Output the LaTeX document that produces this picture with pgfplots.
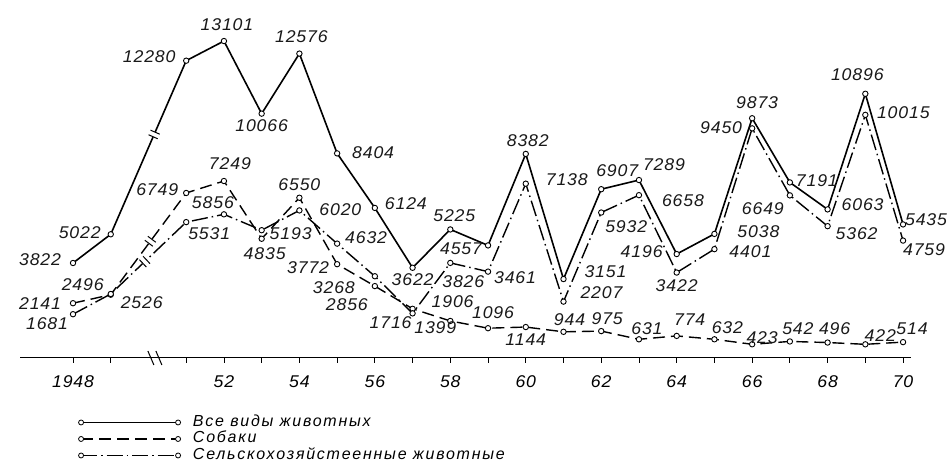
\documentclass[border=0pt]{standalone}
\usepackage{fontspec}
\setmainfont{Liberation Sans}
\newfontfamily\labfont{Liberation Sans}[LetterSpace=5, FakeStretch=1.04]
\newfontfamily\legfont{Liberation Sans}[LetterSpace=11]
\usepackage{pgfplots}
\pgfplotsset{compat=1.18}
\usepackage{pgfplotstable}

\pgfplotstableread{
x y dx dy
1948 3822 -33 3
1949 5022 -31 2
1951 12280 -37 4
1952 13101 3 16
1953 10066 0 -12
1954 12576 2 17
1955 8404 36 1
1956 6124 31 4
1957 3622 0 -12
1958 5225 4 14
1959 4557 -27 -3
1960 8382 2 13
1961 3151 42 7
1962 6907 16 19
1963 7289 25 15
1964 4196 -35 2
1965 5038 44 2
1966 9873 5 16
1967 7191 27 2
1968 6063 35 5
1969 10896 -8 19
1970 5435 23 5
}\allt

\pgfplotstableread{
x y dx dy
1948 2141 -33 0
1949 2496 -28 10
1951 6749 -29 3
1952 7249 6 17
1953 4835 3 -15
1954 6550 0 13
1955 3772 -29 -3
1956 2856 -28 -19
1957 1906 40 7
1958 1399 -15 -7
1959 1096 5 16
1960 1144 0 -13
1961 944 6 12
1962 975 6 12
1963 631 8 11
1964 774 13 16
1965 632 13 12
1966 423 10 7
1967 542 8 13
1968 496 7 14
1969 422 15 9
1970 514 9 13
}\dogs

\pgfplotstableread{
x y dx dy
1948 1681 -26 -9
1949 2526 31 -9
1951 5531 23 -12
1952 5856 -11 12
1953 5193 29 -3
1954 6020 41 1
1955 4632 29 6
1956 3268 -41 -11
1957 1716 -22 -9
1958 3826 13 -19
1959 3461 27 -6
1960 7138 41 4
1961 2207 38 9
1962 5932 25 -14
1963 6658 44 -5
1964 3422 0 -13
1965 4401 36 -3
1966 9450 -31 1
1967 6649 -27 -13
1968 5362 29 -7
1969 10015 38 2
1970 4759 21 -9
}\farm

\newcommand\labfnt{\labfont\itshape\fontsize{17}{19}\selectfont}
\newcommand\brk[3]{%
  \fill[white, shift={(axis cs:#1,#2)}, rotate=#3] (-2.8pt,-3.5pt) rectangle (2.8pt,3.5pt);
  \draw[black, line width=1pt, shift={(axis cs:#1,#2)}, rotate=#3] (-2.5pt,-5pt) -- (-2.5pt,5pt) (2.5pt,-5pt) -- (2.5pt,5pt);
}

\begin{document}
\begin{tikzpicture}
\useasboundingbox[fill=white] (0,0) rectangle (949pt,473pt);
\begin{axis}[
  at={(20.2pt,115pt)}, anchor=south west,
  scale only axis, width=890.4pt, height=358pt,
  xmin=1946.6, xmax=1970.2, ymin=-150, ymax=14817,
  axis x line=bottom, axis y line=none,
  x axis line style={-, line width=1pt},
  ytick=\empty,
  xtick={1948,1949,1951,1952,1953,1954,1955,1956,1957,1958,1959,1960,1961,1962,1963,1964,1965,1966,1967,1968,1969,1970},
  xticklabels={1948,{},{},52,{},54,{},56,{},58,{},60,{},62,{},64,{},66,{},68,{},70},
  tick align=outside, major tick length=5pt,
  tick style={line width=0.8pt, black},
  xticklabel style={font=\labfnt, yshift=-9pt},
  clip=false,
  point meta=explicit symbolic,
  nodes near coords={\pgfplotspointmeta},
  visualization depends on={\thisrow{dx}\as\dx},
  visualization depends on={\thisrow{dy}\as\dy},
  every node near coord/.append style={font=\labfnt, inner sep=0pt, anchor=center, xshift=\dx pt, yshift=\dy pt, text=black!90},
  mark size=2.7pt,
  legend image code/.code={%
    \draw[#1, mark=none] (0pt,0pt) -- (97pt,0pt);
    \draw[#1, solid, line width=0.8pt, fill=white] (0pt,0pt) circle (2.5pt) (97pt,0pt) circle (2.5pt);
  },
  legend cell align=left,
  legend style={at={(0.0649,-0.16)}, anchor=north west, draw=none, fill=none,
    inner sep=0pt, row sep=2.5pt, column sep=12pt,
    font=\legfont\itshape\fontsize{16}{18}\selectfont,
    nodes={inner sep=0pt, text height=11pt, text depth=3pt}},
]
\addplot[black, line width=1.6pt, mark=*, mark options={solid, fill=white, line width=0.9pt}]
  table[x=x, y=y, meta=y] {\allt};
\addlegendentry{Все виды животных}
\addplot[black, line width=1.4pt, dash pattern=on 12pt off 6pt, mark=*, mark options={solid, fill=white, line width=0.9pt}]
  table[x=x, y=y, meta=y] {\dogs};
\addlegendentry{Собаки}
\addplot[black, line width=1.4pt, dash pattern=on 16pt off 4pt on 1.5pt off 4pt, mark=*, mark options={solid, fill=white, line width=0.9pt}]
  table[x=x, y=y, meta=y] {\farm};
\addlegendentry{Сельскохозяйстеенные животные}
\brk{1950.15}{9195}{66.3}
\brk{1950.05}{4729}{53.1}
\brk{1949.9}{3878}{43.3}
\draw[black, line width=1pt] ([xshift=-7pt, yshift=7pt]axis cs:1950.17,-150) -- ([xshift=-1pt, yshift=-7pt]axis cs:1950.17,-150);
\draw[black, line width=1pt] ([xshift=1pt, yshift=7pt]axis cs:1950.17,-150) -- ([xshift=7pt, yshift=-7pt]axis cs:1950.17,-150);
\end{axis}
\end{tikzpicture}
\end{document}
